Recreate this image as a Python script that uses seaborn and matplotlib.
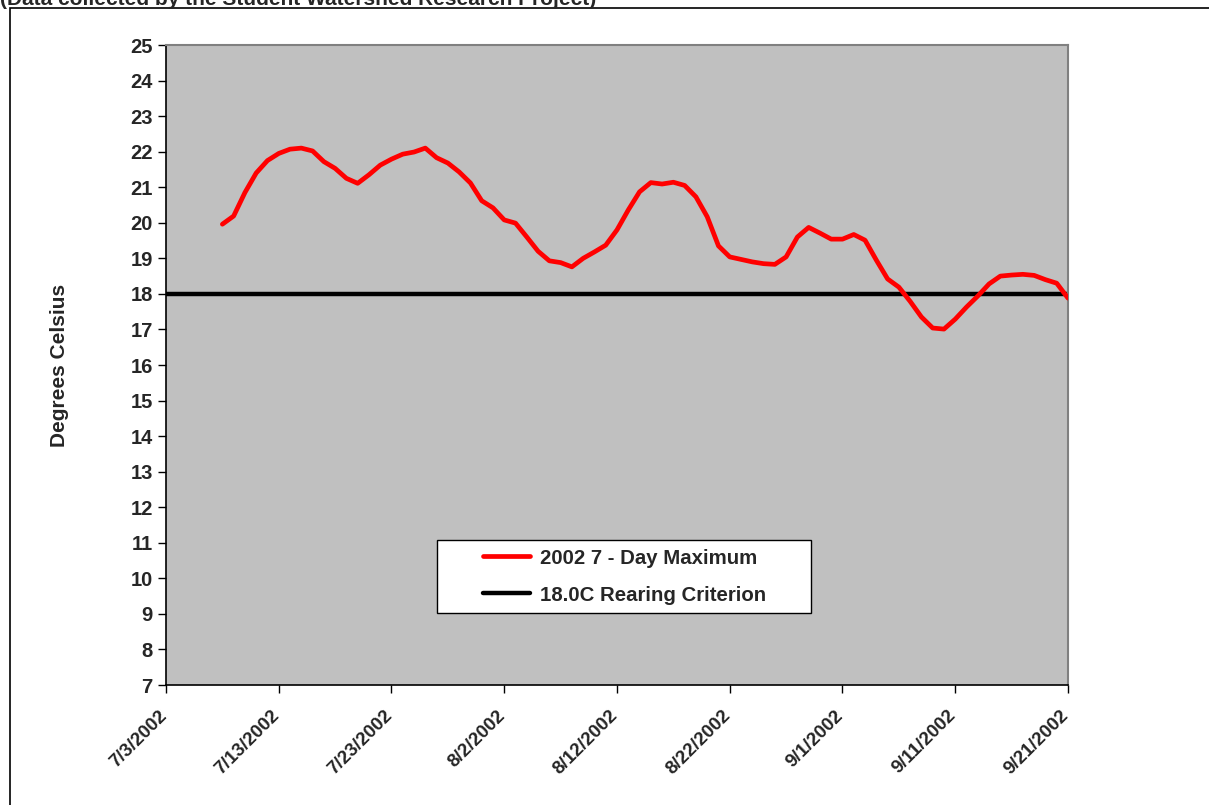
import numpy as np
import pandas as pd
import matplotlib
matplotlib.use("Agg")
import matplotlib.pyplot as plt
import matplotlib.transforms as mtransforms
from matplotlib.patches import Rectangle
import seaborn as sns

# ------------------------------------------
# Daten
# ------------------------------------------
start_date = "2002-07-08"
max_7day = [
    19.96, 20.19, 20.85, 21.40, 21.75, 21.95, 22.07, 22.10, 22.02, 21.72,
    21.53, 21.25, 21.11, 21.35, 21.62, 21.79, 21.93, 21.99, 22.10, 21.83,
    21.68, 21.43, 21.12, 20.62, 20.42, 20.08, 19.99, 19.60, 19.20, 18.93,
    18.88, 18.76, 19.00, 19.18, 19.37, 19.80, 20.36, 20.87, 21.13, 21.09,
    21.14, 21.05, 20.73, 20.17, 19.35, 19.04, 18.97, 18.90, 18.85, 18.83,
    19.04, 19.60, 19.87, 19.71, 19.54, 19.54, 19.67, 19.51, 18.95, 18.42,
    18.19, 17.79, 17.35, 17.04, 17.01, 17.29, 17.63, 17.94, 18.28, 18.50,
    18.53, 18.55, 18.52, 18.40, 18.30, 17.88,
]
criterion = 18.0
series_label = "2002 7 - Day Maximum"
criterion_label = "18.0C Rearing Criterion"
tick_dates = pd.date_range("2002-07-03", "2002-09-21", freq="10D")
y_ticks = list(range(7, 26))

df = pd.DataFrame({
    "date": pd.date_range(start_date, periods=len(max_7day), freq="D"),
    "temp": max_7day,
})

# ------------------------------------------
# Stil
# ------------------------------------------
sns.set_style("ticks")
plt.rcParams["font.family"] = ["Liberation Sans", "DejaVu Sans"]
plt.rcParams["font.weight"] = "bold"

fig = plt.figure(figsize=(12.09, 8.05), dpi=100)
ax = fig.add_axes([166 / 1209, 1 - 685 / 805, (1068 - 166) / 1209, (685 - 45) / 805])
ax.set_facecolor("#C0C0C0")

# Rahmen + abgeschnittener Titel (wie in der Vorlage)
fig.patches.append(Rectangle((10 / 1209, -0.05), 1.1, 1 - 8 / 805 + 0.05,
                             transform=fig.transFigure, fill=False,
                             edgecolor="black", linewidth=1.2, zorder=0))
fig.text(0.0, 1 - 5 / 805, "(Data collected by the Student Watershed Research Project)",
         fontsize=15, fontweight="bold", ha="left", va="baseline")

# Linien
sns.lineplot(data=df, x="date", y="temp", ax=ax, color="#FF0000", linewidth=3.4,
             label=series_label, zorder=3)
ax.axhline(criterion, color="black", linewidth=3.2, label=criterion_label, zorder=2)

# Achsen
ax.set_xlim(tick_dates[0], tick_dates[-1])
ax.set_ylim(7, 25)
ax.set_yticks(y_ticks)
ax.set_yticklabels([str(v) for v in y_ticks], fontsize=14.5, fontweight="bold")
ax.set_xticks(tick_dates)
ax.set_xticklabels([f"{d.month}/{d.day}/{d.year}" for d in tick_dates],
                   rotation=45, ha="right", va="top", rotation_mode="anchor",
                   fontsize=13.5, fontweight="bold")
ax.tick_params(axis="both", direction="out", length=6, width=1, color="black")
ax.tick_params(axis="x", pad=10)
shift = mtransforms.ScaledTranslation(-8 / 100, 0, fig.dpi_scale_trans)
for lbl in ax.get_xticklabels():
    lbl.set_transform(lbl.get_transform() + shift)
ax.set_xlabel("")
ax.set_ylabel("Degrees Celsius", fontsize=15, fontweight="bold")
ax.yaxis.set_label_coords(-0.107, 0.5)

for side in ["top", "right"]:
    ax.spines[side].set_visible(True)
    ax.spines[side].set_color("#808080")
    ax.spines[side].set_linewidth(1.5)
for side in ["left", "bottom"]:
    ax.spines[side].set_color("black")
    ax.spines[side].set_linewidth(1.2)

# Legende: eigener Rahmen, Einträge ohne Rahmen darüber
ax.add_patch(Rectangle((0.3004, 0.1125), 0.4146, 0.1141, transform=ax.transAxes,
                       facecolor="white", edgecolor="black", linewidth=1.0, zorder=5))
leg = ax.legend(loc="center left", bbox_to_anchor=(0.3514, 0.1695), fontsize=14.7,
                frameon=False, borderpad=0, borderaxespad=0, handlelength=2.3,
                handletextpad=0.5, labelspacing=0.88)
leg.set_zorder(6)
for t in leg.get_texts():
    t.set_fontweight("bold")

fig.savefig("out.png", dpi=100)
